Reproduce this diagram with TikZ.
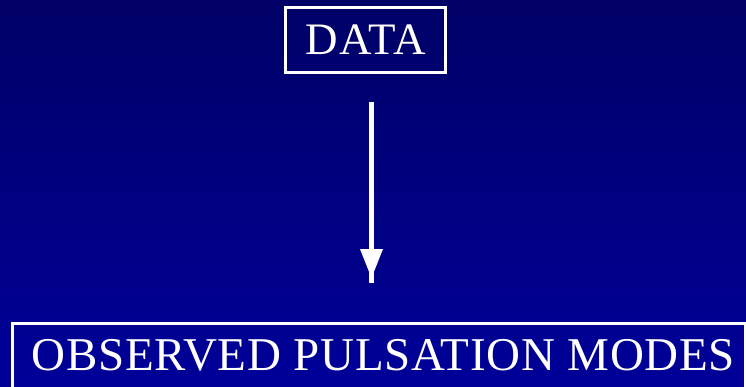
\documentclass[tikz,border=0pt]{standalone}
\usepackage{fontspec}
\setmainfont{Liberation Serif}
\definecolor{bgtop}{RGB}{0,0,102}
\definecolor{bgbot}{RGB}{0,0,153}
\tikzset{
  boxstyle/.style={draw=white, line width=3pt, inner sep=0pt},
  labeltext/.style={text=white, inner sep=0pt},
  shaft/.style={draw=white, line width=5pt},
}
\begin{document}
\begin{tikzpicture}[x=1pt,y=1pt]
\useasboundingbox (0,0) rectangle (746,386);
\clip (0,0) rectangle (746,386);
\shade[top color=bgtop, bottom color=bgbot] (0,0) rectangle (746,386);
\node[boxstyle, minimum width=160pt, minimum height=65pt, labeltext, font=\fontsize{45}{50}\selectfont\addfontfeature{LetterSpace=3}] (data) at (365.5,346) {DATA};
\node[boxstyle, minimum width=732.5pt, minimum height=82.5pt] (modes) at (378.75,21.25) {};
\node[labeltext, anchor=base, font=\fontsize{47}{54}\selectfont\addfontfeature{LetterSpace=1.5}] (modestext) at (383.5,16) {OBSERVED PULSATION MODES};
\coordinate (a1) at (371.5,284);
\coordinate (a2) at (371.5,103);
\draw[shaft] (a1) -- (a2);
\fill[white] (360,137) -- (383,137) -- (371.5,108) -- cycle;
\end{tikzpicture}
\end{document}
